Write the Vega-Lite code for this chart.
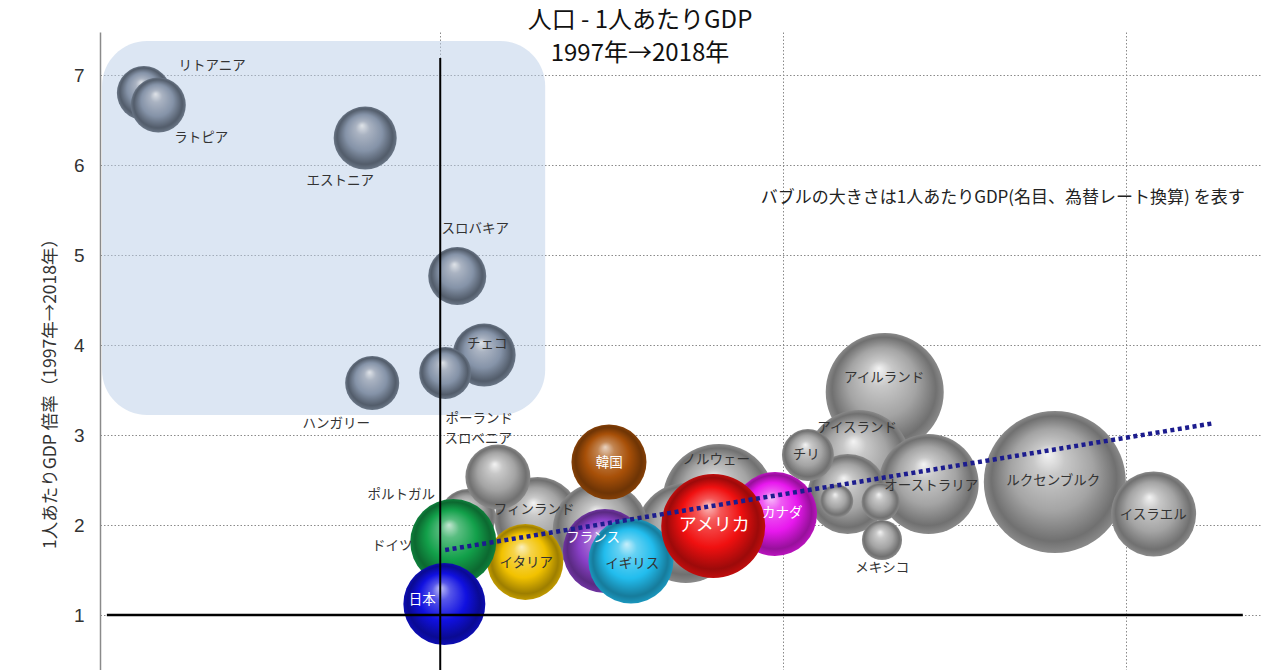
{
  "$schema": "https://vega.github.io/schema/vega-lite/v6.json",
  "width": 1162,
  "height": 638,
  "autosize": "none",
  "padding": {"left": 100, "top": 32, "right": 18, "bottom": 0},
  "background": "white",
  "config": {"view": {"stroke": null}, "font": "Noto Sans CJK JP"},
  "title": {
    "text": ["人口 - 1人あたりGDP", "1997年→2018年"],
    "font": "Noto Sans CJK JP",
    "fontSize": 24,
    "fontWeight": "normal",
    "color": "#111111",
    "anchor": "middle",
    "frame": "group",
    "dx": -41,
    "lineHeight": 33,
    "offset": -34
  },
  "datasets": {
    "countries": [
      {"name": "ルクセンブルク", "group": "その他", "pop_ratio": 1.448, "gdp_ratio": 2.478, "gdp_pc": 116700, "label": "ルクセンブルク", "lx": 1.4468, "ly": 2.489},
      {"name": "イスラエル", "group": "その他", "pop_ratio": 1.520, "gdp_ratio": 2.122, "gdp_pc": 41800, "label": "イスラエル", "lx": 1.5197, "ly": 2.111},
      {"name": "アイルランド", "group": "その他", "pop_ratio": 1.324, "gdp_ratio": 3.478, "gdp_pc": 80600, "label": "アイルランド", "lx": 1.3236, "ly": 3.633},
      {"name": "アイスランド", "group": "その他", "pop_ratio": 1.305, "gdp_ratio": 2.70, "gdp_pc": 62600, "label": "アイスランド", "lx": 1.3039, "ly": 3.078},
      {"name": "オーストラリア", "group": "その他", "pop_ratio": 1.356, "gdp_ratio": 2.456, "gdp_pc": 57900, "label": "オーストラリア", "lx": 1.3579, "ly": 2.433},
      {"name": "ニュージーランド", "group": "その他", "pop_ratio": 1.297, "gdp_ratio": 2.344, "gdp_pc": 37000, "label": null, "lx": null, "ly": null},
      {"name": "コロンビア", "group": "その他", "pop_ratio": 1.289, "gdp_ratio": 2.267, "gdp_pc": 6300, "label": null, "lx": null, "ly": null},
      {"name": "トルコ", "group": "その他", "pop_ratio": 1.321, "gdp_ratio": 2.256, "gdp_pc": 8400, "label": null, "lx": null, "ly": null},
      {"name": "メキシコ", "group": "その他", "pop_ratio": 1.322, "gdp_ratio": 1.833, "gdp_pc": 9300, "label": "メキシコ", "lx": 1.3222, "ly": 1.522},
      {"name": "チリ", "group": "その他", "pop_ratio": 1.268, "gdp_ratio": 2.778, "gdp_pc": 15600, "label": "チリ", "lx": 1.2668, "ly": 2.778},
      {"name": "ノルウェー", "group": "その他", "pop_ratio": 1.203, "gdp_ratio": 2.278, "gdp_pc": 72600, "label": "ノルウェー", "lx": 1.2012, "ly": 2.722},
      {"name": "スウェーデン", "group": "その他", "pop_ratio": 1.179, "gdp_ratio": 1.911, "gdp_pc": 57900, "label": null, "lx": null, "ly": null},
      {"name": "カナダ", "group": "カナダ", "pop_ratio": 1.244, "gdp_ratio": 2.122, "gdp_pc": 40800, "label": "カナダ", "lx": 1.2493, "ly": 2.133},
      {"name": "アメリカ", "group": "アメリカ", "pop_ratio": 1.199, "gdp_ratio": 1.989, "gdp_pc": 62600, "label": "アメリカ", "lx": 1.1997, "ly": 1.989},
      {"name": "フィンランド", "group": "その他", "pop_ratio": 1.071, "gdp_ratio": 2.056, "gdp_pc": 42800, "label": "フィンランド", "lx": 1.0685, "ly": 2.167},
      {"name": "オランダ", "group": "その他", "pop_ratio": 1.117, "gdp_ratio": 1.944, "gdp_pc": 53300, "label": null, "lx": null, "ly": null},
      {"name": "韓国", "group": "韓国", "pop_ratio": 1.123, "gdp_ratio": 2.70, "gdp_pc": 32600, "label": "韓国", "lx": 1.1232, "ly": 2.689},
      {"name": "フランス", "group": "フランス", "pop_ratio": 1.120, "gdp_ratio": 1.711, "gdp_pc": 40800, "label": "フランス", "lx": 1.1115, "ly": 1.856},
      {"name": "イギリス", "group": "イギリス", "pop_ratio": 1.139, "gdp_ratio": 1.60, "gdp_pc": 41800, "label": "イギリス", "lx": 1.14, "ly": 1.567},
      {"name": "ポルトガル", "group": "その他", "pop_ratio": 1.020, "gdp_ratio": 2.089, "gdp_pc": 18100, "label": "ポルトガル", "lx": 0.9716, "ly": 2.333},
      {"name": "スロベニア", "group": "その他", "pop_ratio": 1.042, "gdp_ratio": 2.533, "gdp_pc": 24400, "label": "スロベニア", "lx": 1.0277, "ly": 2.955},
      {"name": "イタリア", "group": "イタリア", "pop_ratio": 1.062, "gdp_ratio": 1.589, "gdp_pc": 33400, "label": "イタリア", "lx": 1.0627, "ly": 1.578},
      {"name": "ドイツ", "group": "ドイツ", "pop_ratio": 1.0095, "gdp_ratio": 1.811, "gdp_pc": 42800, "label": "ドイツ", "lx": 0.965, "ly": 1.767},
      {"name": "日本", "group": "日本", "pop_ratio": 1.003, "gdp_ratio": 1.122, "gdp_pc": 38900, "label": "日本", "lx": 0.9869, "ly": 1.167},
      {"name": "リトアニア", "group": "中東欧", "pop_ratio": 0.784, "gdp_ratio": 6.80, "gdp_pc": 16900, "label": "リトアニア", "lx": 0.8338, "ly": 7.10},
      {"name": "ラトピア", "group": "中東欧", "pop_ratio": 0.7945, "gdp_ratio": 6.667, "gdp_pc": 17500, "label": "ラトピア", "lx": 0.8258, "ly": 6.30},
      {"name": "エストニア", "group": "中東欧", "pop_ratio": 0.9453, "gdp_ratio": 6.30, "gdp_pc": 23000, "label": "エストニア", "lx": 0.9271, "ly": 5.822},
      {"name": "スロバキア", "group": "中東欧", "pop_ratio": 1.0124, "gdp_ratio": 4.767, "gdp_pc": 19500, "label": "スロバキア", "lx": 1.0255, "ly": 5.289},
      {"name": "ハンガリー", "group": "中東欧", "pop_ratio": 0.9504, "gdp_ratio": 3.578, "gdp_pc": 16900, "label": "ハンガリー", "lx": 0.9242, "ly": 3.122},
      {"name": "チェコ", "group": "中東欧", "pop_ratio": 1.032, "gdp_ratio": 3.889, "gdp_pc": 23000, "label": "チェコ", "lx": 1.0343, "ly": 4.011},
      {"name": "ポーランド", "group": "中東欧", "pop_ratio": 1.0036, "gdp_ratio": 3.689, "gdp_pc": 15600, "label": "ポーランド", "lx": 1.0284, "ly": 3.178}
    ],
    "box": [{"x": 0.7535, "x2": 1.0765, "y": 7.378, "y2": 3.222}],
    "vline": [{"x": 1, "y": 7.19, "y2": 0.389}],
    "hline": [{"y": 1, "x": 0.757, "x2": 1.585}],
    "trend": [{"x": 1.0036, "y": 1.722}, {"x": 1.5634, "y": 3.13}],
    "note": [{"x": 1.41, "y": 5.633, "text": "バブルの大きさは1人あたりGDP(名目、為替レート換算) を表す"}]
  },
  "layer": [
    {
      "data": {"name": "box"},
      "mark": {"type": "rect", "fill": "#b9cde8", "opacity": 0.5, "cornerRadius": 45},
      "encoding": {
        "x": {"field": "x", "type": "quantitative", "scale": {"domain": [0.752, 1.599], "nice": false, "zero": false},
          "axis": {"values": [1, 1.25, 1.5], "labels": false, "ticks": false, "domain": false, "title": null, "grid": true, "gridColor": "#8a8a8a", "gridDash": [1.5, 2], "gridWidth": 1}},
        "x2": {"field": "x2"},
        "y": {"field": "y", "type": "quantitative", "scale": {"domain": [0.389, 7.478], "nice": false, "zero": false},
          "axis": {"values": [1, 2, 3, 4, 5, 6, 7], "format": "d", "title": "1人あたりGDP 倍率（1997年→2018年）", "titleFont": "Noto Sans CJK JP", "titleFontSize": 17.5, "titleFontWeight": "normal", "titleColor": "#333333", "titleX": -50, "titleY": 357, "titleAngle": -90, "titleAlign": "center", "titleBaseline": "middle", "labelFont": "Liberation Sans", "labelFontSize": 19, "labelColor": "#333333", "labelPadding": 16, "ticks": false, "tickSize": 0, "domainColor": "#8a8a8a", "domainWidth": 1.5, "grid": true, "gridColor": "#8a8a8a", "gridDash": [1.5, 2], "gridWidth": 1}},
        "y2": {"field": "y2"}
      }
    },
    {
      "data": {"name": "countries"},
      "transform": [{"filter": "datum.group === 'その他'"}],
      "mark": {"type": "circle", "opacity": 1,
        "fill": {"gradient": "radial", "x1": 0.45, "y1": 0.3, "r1": 0, "x2": 0.5, "y2": 0.5, "r2": 0.5,
          "stops": [{"offset": 0, "color": "#f4f4f4"}, {"offset": 0.22, "color": "#c8c8c8"}, {"offset": 0.58, "color": "#a4a4a4"}, {"offset": 0.88, "color": "#707070"}, {"offset": 1, "color": "#8a8a8a"}]}},
      "encoding": {
        "x": {"field": "pop_ratio", "type": "quantitative"},
        "y": {"field": "gdp_ratio", "type": "quantitative"},
        "size": {"field": "gdp_pc", "type": "quantitative", "scale": {"type": "linear", "domain": [0, 100000], "range": [0, 17280], "zero": true}, "legend": null}
      }
    },
    {
      "data": {"name": "countries"},
      "transform": [{"filter": "datum.group === '中東欧'"}],
      "mark": {"type": "circle", "opacity": 1,
        "fill": {"gradient": "radial", "x1": 0.45, "y1": 0.3, "r1": 0, "x2": 0.5, "y2": 0.5, "r2": 0.5,
          "stops": [{"offset": 0, "color": "#e0e4e9"}, {"offset": 0.22, "color": "#aab3c2"}, {"offset": 0.58, "color": "#8593a8"}, {"offset": 0.88, "color": "#525c6a"}, {"offset": 1, "color": "#6a7686"}]}},
      "encoding": {
        "x": {"field": "pop_ratio", "type": "quantitative"},
        "y": {"field": "gdp_ratio", "type": "quantitative"},
        "size": {"field": "gdp_pc", "type": "quantitative", "legend": null}
      }
    },
    {
      "data": {"name": "countries"},
      "transform": [{"filter": "datum.group === '韓国'"}],
      "mark": {"type": "circle", "opacity": 1,
        "fill": {"gradient": "radial", "x1": 0.45, "y1": 0.3, "r1": 0, "x2": 0.5, "y2": 0.5, "r2": 0.5,
          "stops": [{"offset": 0, "color": "#e9d3c1"}, {"offset": 0.22, "color": "#c28552"}, {"offset": 0.58, "color": "#a85008"}, {"offset": 0.88, "color": "#6d3405"}, {"offset": 1, "color": "#864006"}]}},
      "encoding": {
        "x": {"field": "pop_ratio", "type": "quantitative"},
        "y": {"field": "gdp_ratio", "type": "quantitative"},
        "size": {"field": "gdp_pc", "type": "quantitative", "legend": null}
      }
    },
    {
      "data": {"name": "countries"},
      "transform": [{"filter": "datum.group === 'フランス'"}],
      "mark": {"type": "circle", "opacity": 1,
        "fill": {"gradient": "radial", "x1": 0.45, "y1": 0.3, "r1": 0, "x2": 0.5, "y2": 0.5, "r2": 0.5,
          "stops": [{"offset": 0, "color": "#e2cff1"}, {"offset": 0.22, "color": "#ad79d9"}, {"offset": 0.58, "color": "#8a40c8"}, {"offset": 0.88, "color": "#5a2a82"}, {"offset": 1, "color": "#6e33a0"}]}},
      "encoding": {
        "x": {"field": "pop_ratio", "type": "quantitative"},
        "y": {"field": "gdp_ratio", "type": "quantitative"},
        "size": {"field": "gdp_pc", "type": "quantitative", "legend": null}
      }
    },
    {
      "data": {"name": "countries"},
      "transform": [{"filter": "datum.group === 'イギリス'"}],
      "mark": {"type": "circle", "opacity": 1,
        "fill": {"gradient": "radial", "x1": 0.45, "y1": 0.3, "r1": 0, "x2": 0.5, "y2": 0.5, "r2": 0.5,
          "stops": [{"offset": 0, "color": "#c8effb"}, {"offset": 0.22, "color": "#64d1f3"}, {"offset": 0.58, "color": "#22bdee"}, {"offset": 0.88, "color": "#167b9b"}, {"offset": 1, "color": "#1b97be"}]}},
      "encoding": {
        "x": {"field": "pop_ratio", "type": "quantitative"},
        "y": {"field": "gdp_ratio", "type": "quantitative"},
        "size": {"field": "gdp_pc", "type": "quantitative", "legend": null}
      }
    },
    {
      "data": {"name": "countries"},
      "transform": [{"filter": "datum.group === 'カナダ'"}],
      "mark": {"type": "circle", "opacity": 1,
        "fill": {"gradient": "radial", "x1": 0.45, "y1": 0.3, "r1": 0, "x2": 0.5, "y2": 0.5, "r2": 0.5,
          "stops": [{"offset": 0, "color": "#f9c5fb"}, {"offset": 0.22, "color": "#ef5df3"}, {"offset": 0.58, "color": "#e818ee"}, {"offset": 0.88, "color": "#97109b"}, {"offset": 1, "color": "#ba13be"}]}},
      "encoding": {
        "x": {"field": "pop_ratio", "type": "quantitative"},
        "y": {"field": "gdp_ratio", "type": "quantitative"},
        "size": {"field": "gdp_pc", "type": "quantitative", "legend": null}
      }
    },
    {
      "data": {"name": "countries"},
      "transform": [{"filter": "datum.group === 'アメリカ'"}],
      "mark": {"type": "circle", "opacity": 1,
        "fill": {"gradient": "radial", "x1": 0.45, "y1": 0.3, "r1": 0, "x2": 0.5, "y2": 0.5, "r2": 0.5,
          "stops": [{"offset": 0, "color": "#fbc4c4"}, {"offset": 0.22, "color": "#f55858"}, {"offset": 0.58, "color": "#f01010"}, {"offset": 0.88, "color": "#9c0a0a"}, {"offset": 1, "color": "#c00d0d"}]}},
      "encoding": {
        "x": {"field": "pop_ratio", "type": "quantitative"},
        "y": {"field": "gdp_ratio", "type": "quantitative"},
        "size": {"field": "gdp_pc", "type": "quantitative", "legend": null}
      }
    },
    {
      "data": {"name": "countries"},
      "transform": [{"filter": "datum.group === 'イタリア'"}],
      "mark": {"type": "circle", "opacity": 1,
        "fill": {"gradient": "radial", "x1": 0.45, "y1": 0.3, "r1": 0, "x2": 0.5, "y2": 0.5, "r2": 0.5,
          "stops": [{"offset": 0, "color": "#fbf0bf"}, {"offset": 0.22, "color": "#f6d44d"}, {"offset": 0.58, "color": "#f2c200"}, {"offset": 0.88, "color": "#9d7e00"}, {"offset": 1, "color": "#c29b00"}]}},
      "encoding": {
        "x": {"field": "pop_ratio", "type": "quantitative"},
        "y": {"field": "gdp_ratio", "type": "quantitative"},
        "size": {"field": "gdp_pc", "type": "quantitative", "legend": null}
      }
    },
    {
      "data": {"name": "countries"},
      "transform": [{"filter": "datum.group === 'ドイツ'"}],
      "mark": {"type": "circle", "opacity": 1,
        "fill": {"gradient": "radial", "x1": 0.45, "y1": 0.3, "r1": 0, "x2": 0.5, "y2": 0.5, "r2": 0.5,
          "stops": [{"offset": 0, "color": "#c4e7d2"}, {"offset": 0.22, "color": "#59bd80"}, {"offset": 0.58, "color": "#12a04a"}, {"offset": 0.88, "color": "#0c6830"}, {"offset": 1, "color": "#0e803b"}]}},
      "encoding": {
        "x": {"field": "pop_ratio", "type": "quantitative"},
        "y": {"field": "gdp_ratio", "type": "quantitative"},
        "size": {"field": "gdp_pc", "type": "quantitative", "legend": null}
      }
    },
    {
      "data": {"name": "countries"},
      "transform": [{"filter": "datum.group === '日本'"}],
      "mark": {"type": "circle", "opacity": 1,
        "fill": {"gradient": "radial", "x1": 0.45, "y1": 0.3, "r1": 0, "x2": 0.5, "y2": 0.5, "r2": 0.5,
          "stops": [{"offset": 0, "color": "#c4c4f8"}, {"offset": 0.22, "color": "#5858e9"}, {"offset": 0.58, "color": "#1010e0"}, {"offset": 0.88, "color": "#0a0a92"}, {"offset": 1, "color": "#0d0db3"}]}},
      "encoding": {
        "x": {"field": "pop_ratio", "type": "quantitative"},
        "y": {"field": "gdp_ratio", "type": "quantitative"},
        "size": {"field": "gdp_pc", "type": "quantitative", "legend": null}
      }
    },
    {
      "data": {"name": "vline"},
      "mark": {"type": "rule", "color": "#000000", "strokeWidth": 2},
      "encoding": {
        "x": {"field": "x", "type": "quantitative"},
        "y": {"field": "y", "type": "quantitative"},
        "y2": {"field": "y2"}
      }
    },
    {
      "data": {"name": "hline"},
      "mark": {"type": "rule", "color": "#000000", "strokeWidth": 2.5},
      "encoding": {
        "y": {"field": "y", "type": "quantitative"},
        "x": {"field": "x", "type": "quantitative"},
        "x2": {"field": "x2"}
      }
    },
    {
      "data": {"name": "trend"},
      "mark": {"type": "line", "color": "#1c1c8e", "strokeWidth": 4.5, "strokeDash": [4, 3.5]},
      "encoding": {
        "x": {"field": "x", "type": "quantitative"},
        "y": {"field": "y", "type": "quantitative"}
      }
    },
    {
      "data": {"name": "countries"},
      "transform": [{"filter": "isValid(datum.label)"}],
      "mark": {"type": "text", "font": "Noto Sans CJK JP", "align": "center", "baseline": "middle"},
      "encoding": {
        "x": {"field": "lx", "type": "quantitative"},
        "y": {"field": "ly", "type": "quantitative"},
        "text": {"field": "label"},
        "size": {"condition": {"test": "datum.name === 'アメリカ'", "value": 18}, "value": 13.5},
        "color": {"condition": {"test": "indexof(['日本','アメリカ','韓国','フランス','カナダ'], datum.name) >= 0", "value": "#ffffff"}, "value": "#333333"}
      }
    },
    {
      "data": {"name": "note"},
      "mark": {"type": "text", "font": "Noto Sans CJK JP", "fontSize": 17, "align": "center", "baseline": "middle", "color": "#222222"},
      "encoding": {
        "x": {"field": "x", "type": "quantitative"},
        "y": {"field": "y", "type": "quantitative"},
        "text": {"field": "text"}
      }
    }
  ]
}
